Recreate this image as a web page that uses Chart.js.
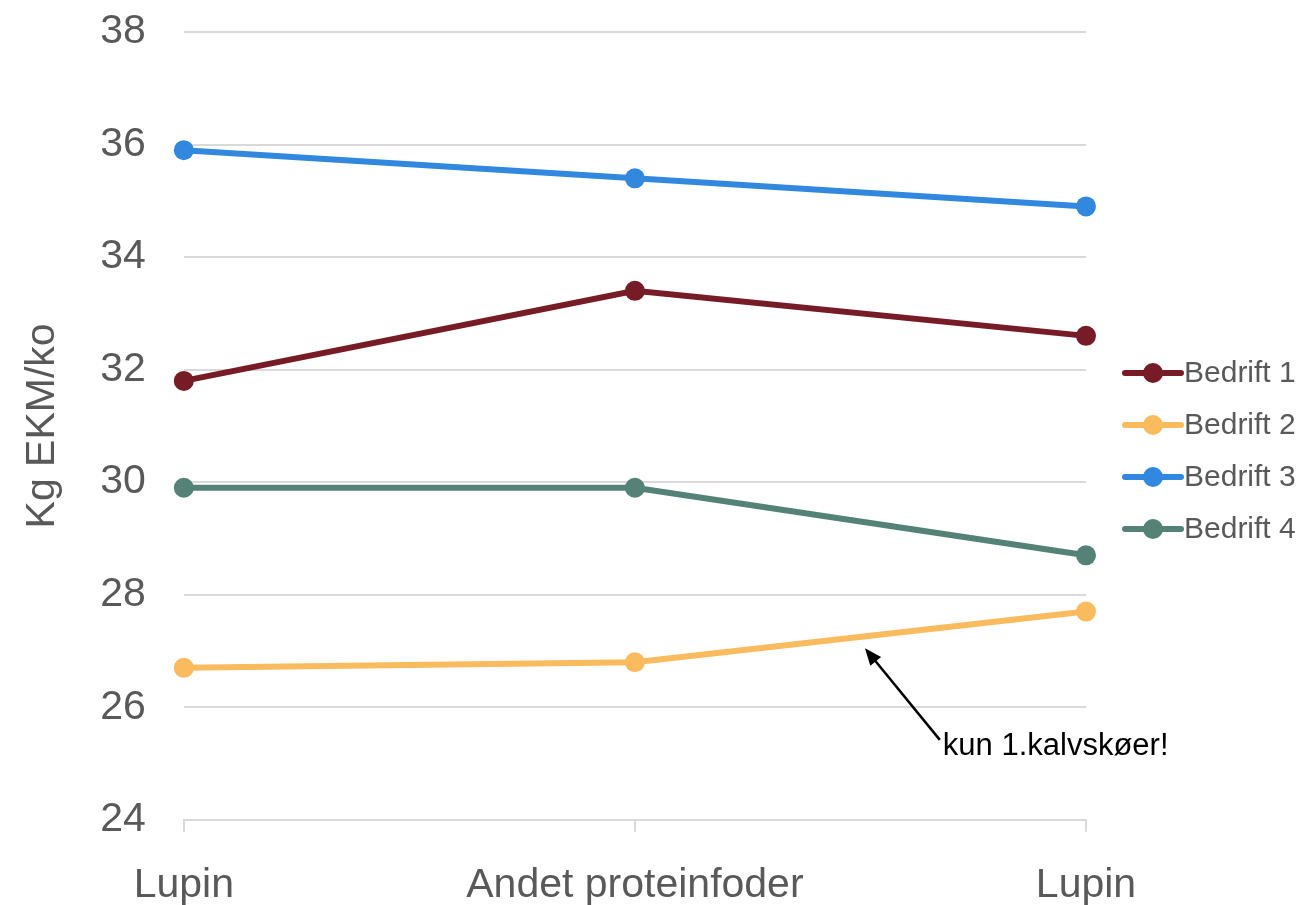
<!DOCTYPE html>
<html>
<head>
<meta charset="utf-8">
<script src="https://cdn.jsdelivr.net/npm/chart.js@4/dist/chart.umd.min.js"></script>
<style>
  html, body { margin: 0; padding: 0; background: #fff; }
  #wrap { width: 1309px; height: 905px; position: relative; }
</style>
</head>
<body>
<div id="wrap"><canvas id="chart"></canvas></div>
<script>
const categories = ['Lupin', 'Andet proteinfoder', 'Lupin'];
const seriesNames = ['Bedrift 1', 'Bedrift 2', 'Bedrift 3', 'Bedrift 4'];
const bedrift1 = [31.8, 33.4, 32.6];
const bedrift2 = [26.7, 26.8, 27.7];
const bedrift3 = [35.9, 35.4, 34.9];
const bedrift4 = [29.9, 29.9, 28.7];
const yTicks = [24, 26, 28, 30, 32, 34, 36, 38];
const colors = ['#771c27', '#f9bb5e', '#3288df', '#548276'];
const noteText = 'kun 1.kalvskøer!';

const textGray = '#595959';
const fontFamily = '"Liberation Sans", Arial, sans-serif';

const seriesValues = [bedrift1, bedrift2, bedrift3, bedrift4];

// legend drawn on the canvas: line + dot + name, like the spreadsheet original
const sideLegend = {
  id: 'sideLegend',
  afterDraw(chart) {
    const { ctx, chartArea } = chart;
    const x0 = chartArea.right + 39;
    const yStart = 373;
    const step = 52;
    ctx.save();
    chart.data.datasets.forEach((ds, i) => {
      const y = yStart + i * step;
      ctx.strokeStyle = ds.borderColor;
      ctx.lineWidth = 6;
      ctx.lineCap = 'round';
      ctx.beginPath();
      ctx.moveTo(x0, y);
      ctx.lineTo(x0 + 56, y);
      ctx.stroke();
      ctx.fillStyle = ds.borderColor;
      ctx.beginPath();
      ctx.arc(x0 + 28, y, 10, 0, Math.PI * 2);
      ctx.fill();
      ctx.fillStyle = textGray;
      ctx.font = '30px ' + fontFamily;
      ctx.textBaseline = 'middle';
      ctx.fillText(ds.label, x0 + 59, y + 1);
    });
    ctx.restore();
  }
};

// arrow + note, placed in data units
const note = {
  id: 'note',
  afterDraw(chart) {
    const { ctx } = chart;
    const xs = chart.scales.x, ys = chart.scales.y;
    const tipX = xs.getPixelForValue(1.51), tipY = ys.getPixelForValue(27.05);
    const tailX = xs.getPixelForValue(1.676), tailY = ys.getPixelForValue(25.42);
    const ang = Math.atan2(tipY - tailY, tipX - tailX);
    ctx.save();
    ctx.strokeStyle = '#000';
    ctx.fillStyle = '#000';
    ctx.lineWidth = 2.5;
    ctx.beginPath();
    ctx.moveTo(tailX, tailY);
    ctx.lineTo(tipX - 10 * Math.cos(ang), tipY - 10 * Math.sin(ang));
    ctx.stroke();
    ctx.beginPath();
    ctx.moveTo(tipX, tipY);
    ctx.lineTo(tipX - 17 * Math.cos(ang) + 7 * Math.sin(ang), tipY - 17 * Math.sin(ang) - 7 * Math.cos(ang));
    ctx.lineTo(tipX - 17 * Math.cos(ang) - 7 * Math.sin(ang), tipY - 17 * Math.sin(ang) + 7 * Math.cos(ang));
    ctx.closePath();
    ctx.fill();
    ctx.font = '31px ' + fontFamily;
    ctx.textBaseline = 'middle';
    ctx.fillText(noteText, tailX + 3, ys.getPixelForValue(25.3));
    ctx.restore();
  }
};

new Chart(document.getElementById('chart'), {
  type: 'line',
  data: {
    labels: categories,
    datasets: seriesNames.map((name, i) => ({
      label: name,
      data: seriesValues[i],
      borderColor: colors[i],
      backgroundColor: colors[i],
      borderWidth: 6,
      pointRadius: 10,
      pointHoverRadius: 10,
      pointBorderWidth: 0,
      tension: 0,
      clip: false
    }))
  },
  options: {
    responsive: true,
    maintainAspectRatio: false,
    animation: false,
    layout: { padding: { top: 32, right: 223, bottom: -34, left: 18 } },
    plugins: {
      legend: { display: false },
      tooltip: { enabled: false }
    },
    scales: {
      x: {
        offset: false,
        grid: { display: true, drawOnChartArea: false, color: '#d9d9d9', lineWidth: 2, tickLength: 12 },
        border: { display: true, color: '#d9d9d9', width: 2 },
        ticks: { color: textGray, font: { family: fontFamily, size: 41 }, padding: 29, maxRotation: 0, autoSkip: false }
      },
      y: {
        min: 24,
        max: 38,
        afterBuildTicks: axis => { axis.ticks = yTicks.map(v => ({ value: v })); },
        grid: { color: '#d9d9d9', lineWidth: 2, drawTicks: true, tickLength: 38, tickColor: 'rgba(0,0,0,0)' },
        border: { display: false },
        ticks: { color: textGray, font: { family: fontFamily, size: 41 }, padding: 0 },
        title: {
          display: true,
          text: 'Kg EKM/ko',
          color: textGray,
          font: { family: fontFamily, size: 41 },
          padding: { top: 0, bottom: 33 }
        }
      }
    }
  },
  plugins: [sideLegend, note]
});
</script>
</body>
</html>
